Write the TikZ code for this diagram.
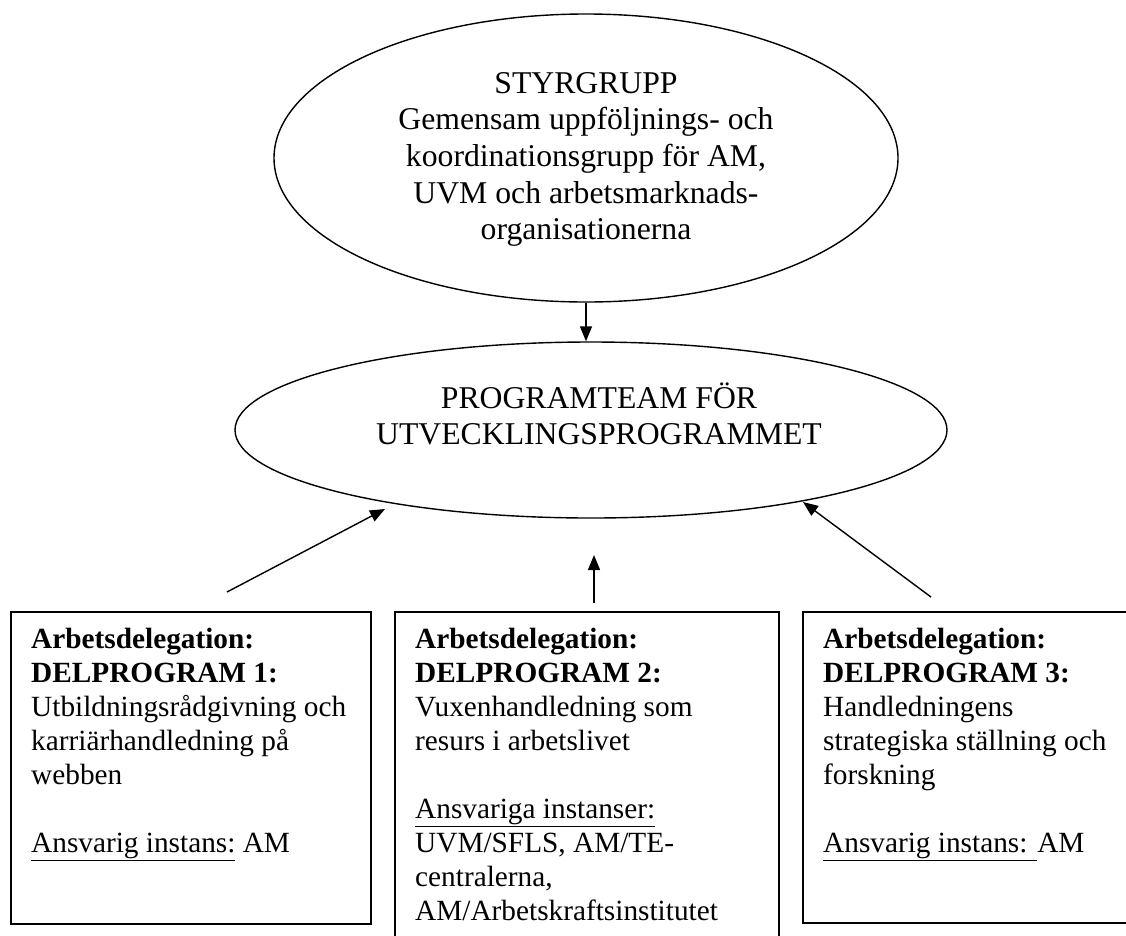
\documentclass[tikz,border=0pt]{standalone}
\usepackage{fontspec}
\setmainfont{Liberation Serif}
\usetikzlibrary{shapes.geometric,arrows.meta}
\tikzset{
  oval/.style={draw, ellipse, line width=1.4pt, inner sep=0pt},
  delbox/.style={draw, rectangle, line width=2.3pt, inner sep=0pt, anchor=north west},
  boxtext/.style={anchor=base west, inner sep=0pt, font=\fontsize{29.3}{34}\selectfont},
  ovaltext/.style={anchor=base, inner sep=0pt, font=\fontsize{31.7}{36.7}\selectfont},
  arr/.style={line width=1.4pt, -{Triangle[length=15pt,width=12pt]}}
}
\begin{document}
\begin{tikzpicture}[x=1pt,y=-1pt]
\useasboundingbox (0,0) rectangle (1126,935);
% ellipses
\node[oval, minimum width=624pt, minimum height=288pt] (styr) at (586,158) {};
\node[ovaltext] (styrtxt) at (586,93) {\begin{tabular}[t]{@{}c@{}}STYRGRUPP\\Gemensam uppföljnings- och\\koordinationsgrupp för AM,\\UVM och arbetsmarknads-\\organisationerna\end{tabular}};
\node[oval, minimum width=712pt, minimum height=176pt] (pt) at (591,430) {};
\node[ovaltext] (pttxt) at (599,408) {\begin{tabular}[t]{@{}c@{}}PROGRAMTEAM FÖR\\UTVECKLINGSPROGRAMMET\end{tabular}};
% boxes
\node[delbox, minimum width=360pt, minimum height=312pt] (b1) at (10,611) {};
\node[delbox, minimum width=384pt, minimum height=345pt] (b2) at (394,611) {};
\node[delbox, minimum width=330pt, minimum height=311pt] (b3) at (802,611) {};
\node[boxtext] (t1) at (31,648) {\begin{tabular}[t]{@{}l@{}}\textbf{Arbetsdelegation:}\\\textbf{DELPROGRAM 1:}\\Utbildningsrådgivning och\\karriärhandledning på\\webben\\ \\\underline{Ansvarig instans:} AM\end{tabular}};
\node[boxtext] (t2) at (415,648) {\begin{tabular}[t]{@{}l@{}}\textbf{Arbetsdelegation:}\\\textbf{DELPROGRAM 2:}\\Vuxenhandledning som\\resurs i arbetslivet\\ \\\underline{Ansvariga instanser:}\\UVM/SFLS, AM/TE-\\centralerna,\\AM/Arbetskraftsinstitutet\end{tabular}};
\node[boxtext] (t3) at (823,648) {\begin{tabular}[t]{@{}l@{}}\textbf{Arbetsdelegation:}\\\textbf{DELPROGRAM 3:}\\Handledningens\\strategiska ställning och\\forskning\\ \\\underline{Ansvarig instans: }AM\end{tabular}};
% connectors
\coordinate (a1s) at (227,592);
\coordinate (a1e) at (385,509);
\coordinate (a2s) at (594,603);
\coordinate (a2e) at (594,555);
\coordinate (a3s) at (931,597);
\coordinate (a3e) at (803,502);
\draw[arr] (styr.south) -- (styr.south |- pt.north);
\draw[arr] (a1s) -- (a1e);
\draw[arr] (a2s) -- (a2e);
\draw[arr] (a3s) -- (a3e);
\end{tikzpicture}
\end{document}
